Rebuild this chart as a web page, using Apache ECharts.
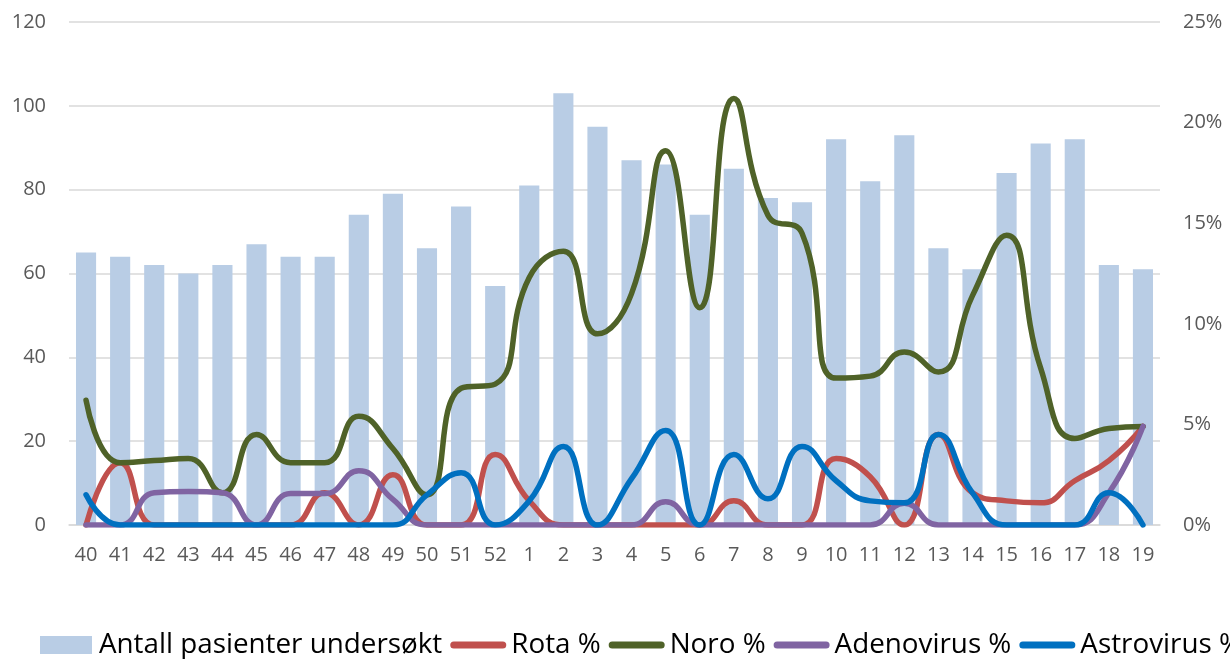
<!DOCTYPE html>
<html>
<head>
<meta charset="utf-8">
<script src="https://cdn.jsdelivr.net/npm/echarts@6/dist/echarts.min.js"></script>
<style>
html,body{margin:0;padding:0;background:#fff;}
#chart{width:1230px;height:659px;}
</style>
</head>
<body>
<div id="chart"></div>
<script>
const weeks = ['40','41','42','43','44','45','46','47','48','49','50','51','52','1','2','3','4','5','6','7','8','9','10','11','12','13','14','15','16','17','18','19'];
const antall = [65,64,62,60,62,67,64,64,74,79,66,76,57,81,103,95,87,86,74,85,78,77,92,82,93,66,61,84,91,92,62,61];
const rota  = [0,3.1,0,0,0,0,0,1.6,0,2.5,0,0,3.5,1.2,0,0,0,0,0,1.2,0,0,3.3,2.4,0,4.5,1.6,1.2,1.1,2.2,3.2,4.9];
const noro  = [6.2,3.1,3.2,3.3,1.6,4.5,3.1,3.1,5.4,3.8,1.5,6.8,7.0,12.3,13.6,9.5,11.5,18.6,10.8,21.2,15.4,14.5,7.3,7.4,8.6,7.6,11.4,14.4,7.8,4.3,4.8,4.9];
const adeno = [0,0,1.6,1.67,1.6,0,1.56,1.56,2.7,1.27,0,0,0,0,0,0,0,1.16,0,0,0,0,0,0,1.08,0,0,0,0,0,1.6,4.9];
const astro = [1.5,0,0,0,0,0,0,0,0,0,1.5,2.6,0,1.2,3.9,0,2.3,4.7,0,3.5,1.3,3.9,2.2,1.2,1.1,4.5,1.6,0,0,0,1.6,0];
const leftTicks = {min:0, max:120, interval:20};
const rightTicks = {min:0, max:25, interval:5};

const FONT = '"Open Sans", sans-serif';
const lineIcon = 'path://M3.5,0H52.5A3.5,3.5 0 0 1 52.5,7H3.5A3.5,3.5 0 0 1 3.5,0Z';
const barIcon = 'path://M0,0H52V18H0Z';

const chart = echarts.init(document.getElementById('chart'), null, {renderer:'canvas'});
function lineSeries(name, data, color){
  return {
    name, type:'line', yAxisIndex:1, data, smooth:0.5, showSymbol:false, symbol:'none',
    lineStyle:{color, width:5.5, cap:'round', join:'round'}, itemStyle:{color}
  };
}
chart.setOption({
  animation:false,
  textStyle:{fontFamily:FONT},
  grid:{left:69, right:70, top:22, bottom:134},
  legend:{
    left:35, top:626, width:2000, itemGap:8, itemWidth:56, itemHeight:18,
    textStyle:{fontFamily:FONT, fontSize:27.8, color:'#000'},
    data:[
      {name:'Antall pasienter undersøkt', icon:barIcon},
      {name:'Rota %', icon:lineIcon},
      {name:'Noro %', icon:lineIcon},
      {name:'Adenovirus %', icon:lineIcon},
      {name:'Astrovirus %', icon:lineIcon}
    ]
  },
  xAxis:{
    type:'category', data:weeks,
    axisLine:{lineStyle:{color:'#D9D9D9', width:1.5}},
    axisTick:{show:false},
    axisLabel:{color:'#595959', fontSize:20, margin:20, fontFamily:FONT, interval:0}
  },
  yAxis:[
    {type:'value', min:leftTicks.min, max:leftTicks.max, interval:leftTicks.interval,
     axisLine:{show:false}, axisTick:{show:false},
     splitLine:{lineStyle:{color:'#D9D9D9', width:1.5}},
     axisLabel:{color:'#595959', fontSize:20, margin:23, fontFamily:FONT}},
    {type:'value', min:rightTicks.min, max:rightTicks.max, interval:rightTicks.interval,
     axisLine:{show:false}, axisTick:{show:false}, splitLine:{show:false},
     axisLabel:{color:'#595959', fontSize:20, margin:23, fontFamily:FONT, formatter:'{value}%'}}
  ],
  series:[
    {name:'Antall pasienter undersøkt', type:'bar', data:antall, barCategoryGap:'41%',
     itemStyle:{color:'#B9CDE5'}},
    lineSeries('Rota %', rota, '#C0504D'),
    lineSeries('Noro %', noro, '#4F6228'),
    lineSeries('Adenovirus %', adeno, '#8064A2'),
    lineSeries('Astrovirus %', astro, '#0070C0')
  ]
});
</script>
</body>
</html>
